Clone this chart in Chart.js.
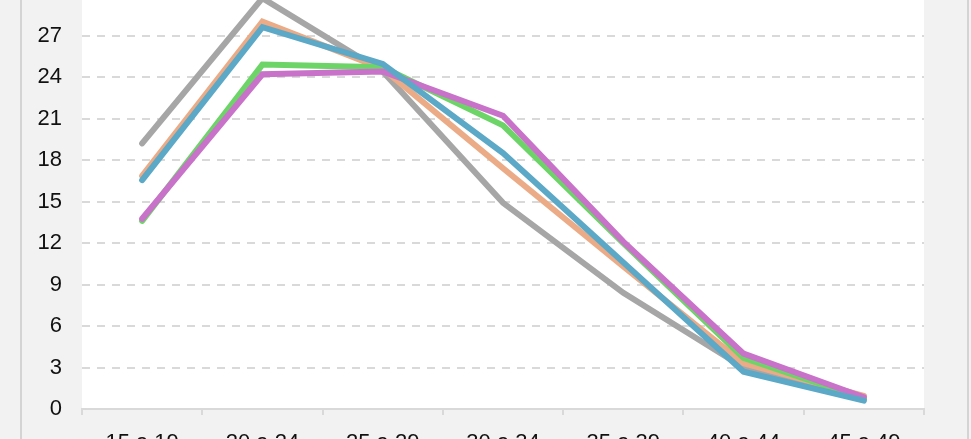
<!DOCTYPE html>
<html>
<head>
<meta charset="utf-8">
<script src="https://cdn.jsdelivr.net/npm/chart.js@4.4.1/dist/chart.umd.min.js"></script>
<style>
    html, body { margin: 0; padding: 0; width: 971px; height: 439px; overflow: hidden; background: #f2f2f2; }
    .frame { position: absolute; top: 0; bottom: 0; width: 2px; background: #d4d4d4; }
    #wrap { position: absolute; left: 0; top: -40px; width: 971px; height: 509px; }
</style>
</head>
<body>
<div class="frame" style="left:20px"></div>
<div class="frame" style="left:967px"></div>
<div id="wrap"><canvas id="myAgeChart"></canvas></div>
<script>
const ageGroups = ['15 a 19', '20 a 24', '25 a 29', '30 a 34', '35 a 39', '40 a 44', '45 a 49'];
const yTicks = [0, 3, 6, 9, 12, 15, 18, 21, 24, 27, 30];

const serieGray = [19.2, 29.7, 24.4, 14.9, 8.4, 3.0, 0.7];
const serieOrange = [16.85, 28.0, 24.6, 17.4, 10.3, 3.3, 0.95];
const serieGreen = [13.6, 24.9, 24.7, 20.5, 12.0, 3.7, 0.75];
const seriePurple = [13.75, 24.2, 24.4, 21.2, 12.1, 4.0, 0.85];
const serieBlue = [16.55, 27.6, 24.95, 18.5, 10.6, 2.7, 0.6];

const ctx = document.getElementById('myAgeChart');
const labelFont = { family: '"Liberation Sans", Arial, sans-serif', size: 22 };

// fundo branco so na area do grafico
const plotBackground = {
    id: 'plotBackground',
    beforeDraw(chart) {
        const a = chart.chartArea;
        chart.ctx.save();
        chart.ctx.fillStyle = '#ffffff';
        chart.ctx.fillRect(a.left, a.top, a.right - a.left, a.bottom - a.top);
        chart.ctx.restore();
    }
};

function line(data, color, order) {
    return {
        data: data,
        borderColor: color,
        backgroundColor: color,
        borderWidth: 6,
        borderCapStyle: 'round',
        pointRadius: 0,
        tension: 0,
        order: order
    };
}

new Chart(ctx, {
    type: 'line',
    data: {
        labels: ageGroups,
        datasets: [
            line(serieGray, '#a6a6a6', 5),
            line(serieOrange, '#eaab86', 4),
            line(serieGreen, '#6dd468', 3),
            line(seriePurple, '#c972c9', 2),
            line(serieBlue, '#5ca8c7', 1)
        ]
    },
    options: {
        responsive: true,
        maintainAspectRatio: false,
        animation: false,
        layout: { padding: { top: 34, right: 47, left: 0, bottom: 0 } },
        plugins: { legend: { display: false }, tooltip: { enabled: false } },
        scales: {
            x: {
                offset: true,
                afterFit(scale) { scale.height = 60; },
                grid: {
                    offset: true,
                    drawOnChartArea: false,
                    drawTicks: true,
                    tickLength: 6,
                    color: '#d9d9d9',
                    lineWidth: 2
                },
                border: { display: true, color: '#d9d9d9', width: 2 },
                ticks: {
                    color: '#111',
                    padding: 15,
                    maxRotation: 0,
                    font: labelFont
                }
            },
            y: {
                min: 0,
                max: 30,
                afterFit(scale) { scale.width = 82; },
                afterBuildTicks(scale) { scale.ticks = yTicks.map(v => ({ value: v })); },
                grid: {
                    drawTicks: false,
                    color: '#d9d9d9',
                    lineWidth: 2
                },
                border: { display: false, dash: [8, 7] },
                ticks: {
                    color: '#111',
                    padding: 20,
                    font: labelFont
                }
            }
        }
    },
    plugins: [plotBackground]
});
</script>
</body>
</html>
